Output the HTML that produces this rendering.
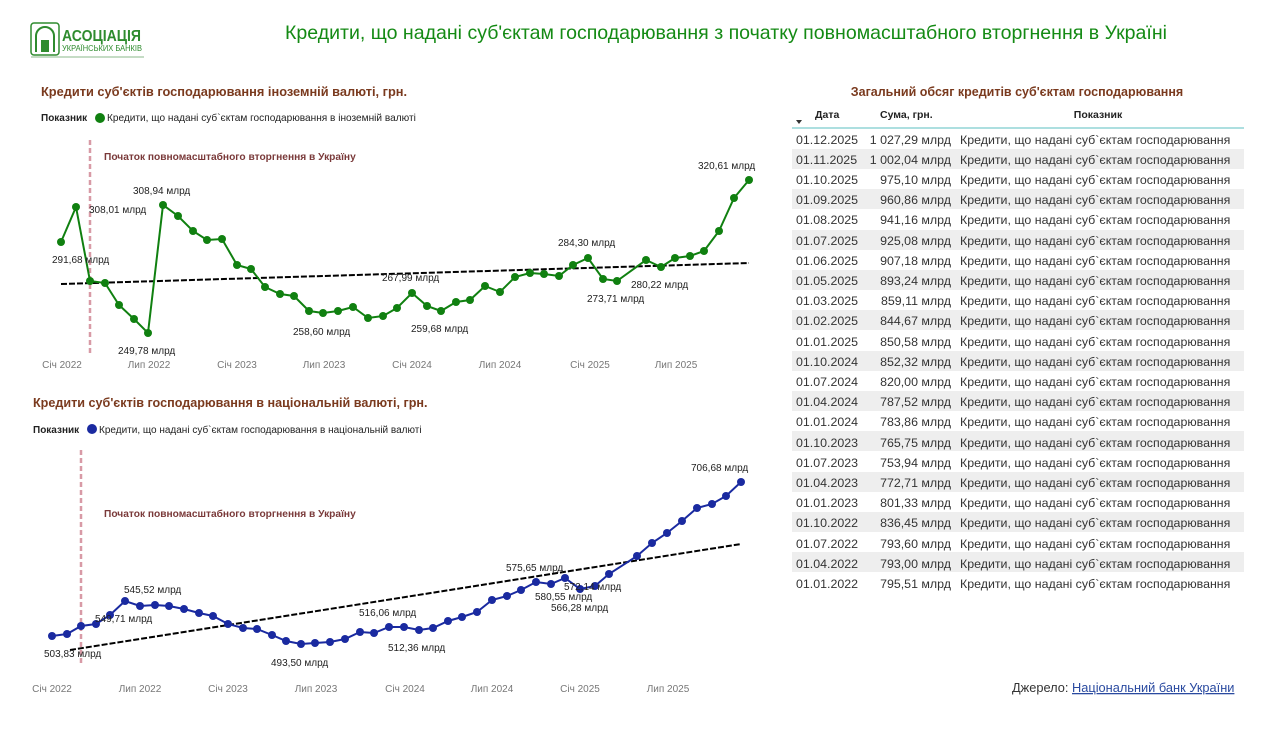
<!DOCTYPE html>
<html><head><meta charset="utf-8"><style>
body{margin:0;background:#fff;width:1269px;height:724px;overflow:hidden;font-family:"Liberation Sans","Noto Sans CJK SC",sans-serif}
</style></head><body>
<svg width="1269" height="724" xmlns="http://www.w3.org/2000/svg" font-family="Liberation Sans, DejaVu Sans, sans-serif">
<!-- logo -->
<g>
<rect x="31" y="23" width="28" height="32" rx="3" fill="none" stroke="#2e8b2e" stroke-width="1.5"/>
<path d="M36 52 V36 a9 9 0 0 1 18 0 V52" fill="none" stroke="#2e8b2e" stroke-width="2"/>
<rect x="41" y="40" width="8" height="12" fill="#2e8b2e"/>
<text x="62" y="41" font-size="16" fill="#2e8b2e" font-weight="bold" textLength="79" lengthAdjust="spacingAndGlyphs">АСОЦІАЦІЯ</text>
<text x="62" y="51" font-size="8" fill="#2e8b2e" textLength="80" lengthAdjust="spacingAndGlyphs">УКРАЇНСЬКИХ БАНКІВ</text>
<line x1="31" y1="57" x2="144" y2="57" stroke="#8bb88b" stroke-width="1"/>
</g>
<text x="726" y="39" font-size="19.5" fill="#148a14" text-anchor="middle" textLength="882" lengthAdjust="spacingAndGlyphs">Кредити, що надані суб'єктам господарювання з початку повномасштабного вторгнення в Україні</text>

<!-- top chart -->
<text x="41" y="96" font-size="12.8" font-weight="bold" fill="#7a3a1e">Кредити суб'єктів господарювання  іноземній валюті, грн.</text>
<text x="41" y="121" font-size="10" font-weight="bold" fill="#222">Показник</text>
<circle cx="100" cy="118" r="5" fill="#108010"/>
<text x="107" y="121" font-size="10.1" fill="#222">Кредити, що надані суб`єктам господарювання в іноземній валюті</text>
<line x1="90" y1="140" x2="90" y2="353" stroke="#d89aa6" stroke-width="2.5" stroke-dasharray="5,3"/>
<text x="104" y="160" font-size="10.2" font-weight="bold" fill="#7a3a3a">Початок повномасштабного вторгнення в Україну</text>
<line x1="61" y1="284" x2="749" y2="263" stroke="#000" stroke-width="2" stroke-dasharray="6,2"/>
<polyline fill="none" stroke="#108010" stroke-width="2" points="61,242 76,207 90,281 105,283 119,305 134,319 148,333 163,205 178,216 193,231 207,240 222,239 237,265 251,269 265,287 280,294 294,296 309,311 323,313 338,311 353,307 368,318 383,316 397,308 412,293 427,306 441,311 456,302 470,300 485,286 500,292 515,277 530,273 544,274 559,276 573,265 588,258 603,279 617,281 646,260 661,267 675,258 690,256 704,251 719,231 734,198 749,180"/>
<g fill="#108010">
<circle cx="61" cy="242" r="4"/><circle cx="76" cy="207" r="4"/><circle cx="90" cy="281" r="4"/><circle cx="105" cy="283" r="4"/><circle cx="119" cy="305" r="4"/><circle cx="134" cy="319" r="4"/><circle cx="148" cy="333" r="4"/><circle cx="163" cy="205" r="4"/><circle cx="178" cy="216" r="4"/><circle cx="193" cy="231" r="4"/><circle cx="207" cy="240" r="4"/><circle cx="222" cy="239" r="4"/><circle cx="237" cy="265" r="4"/><circle cx="251" cy="269" r="4"/><circle cx="265" cy="287" r="4"/><circle cx="280" cy="294" r="4"/><circle cx="294" cy="296" r="4"/><circle cx="309" cy="311" r="4"/><circle cx="323" cy="313" r="4"/><circle cx="338" cy="311" r="4"/><circle cx="353" cy="307" r="4"/><circle cx="368" cy="318" r="4"/><circle cx="383" cy="316" r="4"/><circle cx="397" cy="308" r="4"/><circle cx="412" cy="293" r="4"/><circle cx="427" cy="306" r="4"/><circle cx="441" cy="311" r="4"/><circle cx="456" cy="302" r="4"/><circle cx="470" cy="300" r="4"/><circle cx="485" cy="286" r="4"/><circle cx="500" cy="292" r="4"/><circle cx="515" cy="277" r="4"/><circle cx="530" cy="273" r="4"/><circle cx="544" cy="274" r="4"/><circle cx="559" cy="276" r="4"/><circle cx="573" cy="265" r="4"/><circle cx="588" cy="258" r="4"/><circle cx="603" cy="279" r="4"/><circle cx="617" cy="281" r="4"/><circle cx="646" cy="260" r="4"/><circle cx="661" cy="267" r="4"/><circle cx="675" cy="258" r="4"/><circle cx="690" cy="256" r="4"/><circle cx="704" cy="251" r="4"/><circle cx="719" cy="231" r="4"/><circle cx="734" cy="198" r="4"/><circle cx="749" cy="180" r="4"/>
</g>
<g font-size="10" fill="#222">
<text x="52" y="263">291,68 млрд</text>
<text x="89" y="213">308,01 млрд</text>
<text x="133" y="194">308,94 млрд</text>
<text x="118" y="354">249,78 млрд</text>
<text x="293" y="335">258,60 млрд</text>
<text x="382" y="281">267,99 млрд</text>
<text x="411" y="332">259,68 млрд</text>
<text x="558" y="246">284,30 млрд</text>
<text x="587" y="302">273,71 млрд</text>
<text x="631" y="288">280,22 млрд</text>
<text x="698" y="169">320,61 млрд</text>
</g>
<g font-size="10" fill="#777" text-anchor="middle">
<text x="62" y="368">Січ 2022</text><text x="149" y="368">Лип 2022</text><text x="237" y="368">Січ 2023</text><text x="324" y="368">Лип 2023</text><text x="412" y="368">Січ 2024</text><text x="500" y="368">Лип 2024</text><text x="590" y="368">Січ 2025</text><text x="676" y="368">Лип 2025</text>
</g>

<!-- bottom chart -->
<text x="33" y="407" font-size="12.6" font-weight="bold" fill="#7a3a1e">Кредити суб'єктів господарювання в національній валюті, грн.</text>
<text x="33" y="433" font-size="10" font-weight="bold" fill="#222">Показник</text>
<circle cx="92" cy="429" r="5" fill="#1a2aa0"/>
<text x="99" y="433" font-size="10" fill="#222">Кредити, що надані суб`єктам господарювання в національній валюті</text>
<line x1="81" y1="450" x2="81" y2="666" stroke="#d89aa6" stroke-width="2.5" stroke-dasharray="5,3"/>
<text x="104" y="517" font-size="10.2" font-weight="bold" fill="#7a3a3a">Початок повномасштабного вторгнення в Україну</text>
<line x1="70" y1="650" x2="741" y2="544" stroke="#000" stroke-width="2" stroke-dasharray="6,2"/>
<polyline fill="none" stroke="#1a2aa0" stroke-width="2" points="52,636 67,634 81,626 96,624 110,615 125,601 140,606 155,605 169,606 184,609 199,613 213,616 228,624 243,628 257,629 272,635 286,641 301,644 315,643 330,642 345,639 360,632 374,633 389,627 404,627 419,630 433,628 448,621 462,617 477,612 492,600 507,596 521,590 536,582 551,584 565,578 580,589 595,586 609,574 637,556 652,543 667,533 682,521 697,508 712,504 726,496 741,482"/>
<g fill="#1a2aa0">
<circle cx="52" cy="636" r="4"/><circle cx="67" cy="634" r="4"/><circle cx="81" cy="626" r="4"/><circle cx="96" cy="624" r="4"/><circle cx="110" cy="615" r="4"/><circle cx="125" cy="601" r="4"/><circle cx="140" cy="606" r="4"/><circle cx="155" cy="605" r="4"/><circle cx="169" cy="606" r="4"/><circle cx="184" cy="609" r="4"/><circle cx="199" cy="613" r="4"/><circle cx="213" cy="616" r="4"/><circle cx="228" cy="624" r="4"/><circle cx="243" cy="628" r="4"/><circle cx="257" cy="629" r="4"/><circle cx="272" cy="635" r="4"/><circle cx="286" cy="641" r="4"/><circle cx="301" cy="644" r="4"/><circle cx="315" cy="643" r="4"/><circle cx="330" cy="642" r="4"/><circle cx="345" cy="639" r="4"/><circle cx="360" cy="632" r="4"/><circle cx="374" cy="633" r="4"/><circle cx="389" cy="627" r="4"/><circle cx="404" cy="627" r="4"/><circle cx="419" cy="630" r="4"/><circle cx="433" cy="628" r="4"/><circle cx="448" cy="621" r="4"/><circle cx="462" cy="617" r="4"/><circle cx="477" cy="612" r="4"/><circle cx="492" cy="600" r="4"/><circle cx="507" cy="596" r="4"/><circle cx="521" cy="590" r="4"/><circle cx="536" cy="582" r="4"/><circle cx="551" cy="584" r="4"/><circle cx="565" cy="578" r="4"/><circle cx="580" cy="589" r="4"/><circle cx="595" cy="586" r="4"/><circle cx="609" cy="574" r="4"/><circle cx="637" cy="556" r="4"/><circle cx="652" cy="543" r="4"/><circle cx="667" cy="533" r="4"/><circle cx="682" cy="521" r="4"/><circle cx="697" cy="508" r="4"/><circle cx="712" cy="504" r="4"/><circle cx="726" cy="496" r="4"/><circle cx="741" cy="482" r="4"/>
</g>
<g font-size="10" fill="#222">
<text x="124" y="593">545,52 млрд</text>
<text x="95" y="622">549,71 млрд</text>
<text x="44" y="657">503,83 млрд</text>
<text x="271" y="666">493,50 млрд</text>
<text x="359" y="616">516,06 млрд</text>
<text x="388" y="651">512,36 млрд</text>
<text x="506" y="571">575,65 млрд</text>
<text x="535" y="600">580,55 млрд</text>
<text x="551" y="611">566,28 млрд</text>
<text x="564" y="590">572,14 млрд</text>
<text x="691" y="471">706,68 млрд</text>
</g>
<g font-size="10" fill="#777" text-anchor="middle">
<text x="52" y="692">Січ 2022</text><text x="140" y="692">Лип 2022</text><text x="228" y="692">Січ 2023</text><text x="316" y="692">Лип 2023</text><text x="405" y="692">Січ 2024</text><text x="492" y="692">Лип 2024</text><text x="580" y="692">Січ 2025</text><text x="668" y="692">Лип 2025</text>
</g>

<!-- table -->
<text x="1017" y="96" font-size="12.5" font-weight="bold" fill="#7a3a1e" text-anchor="middle">Загальний обсяг кредитів суб'єктам господарювання</text>
<g font-size="10.5" font-weight="bold" fill="#222">
<text x="815" y="118">Дата</text><text x="880" y="118">Сума, грн.</text><text x="1098" y="118" text-anchor="middle">Показник</text>
</g>
<path d="M796 120 l6 0 l-3 4z" fill="#333"/>
<line x1="792" y1="128" x2="1244" y2="128" stroke="#5bbfc0" stroke-width="1"/>
<g fill="#eeeeee">
<rect x="792" y="149" width="452" height="20"/><rect x="792" y="189" width="452" height="20"/><rect x="792" y="230" width="452" height="20"/><rect x="792" y="270" width="452" height="20"/><rect x="792" y="310" width="452" height="20"/><rect x="792" y="351" width="452" height="20"/><rect x="792" y="391" width="452" height="20"/><rect x="792" y="431" width="452" height="20"/><rect x="792" y="472" width="452" height="20"/><rect x="792" y="512" width="452" height="20"/><rect x="792" y="552" width="452" height="20"/>
</g>
<g font-size="12.4" fill="#333">
<g>
<text x="796" y="144">01.12.2025</text><text x="796" y="164">01.11.2025</text><text x="796" y="184">01.10.2025</text><text x="796" y="204">01.09.2025</text><text x="796" y="224">01.08.2025</text><text x="796" y="245">01.07.2025</text><text x="796" y="265">01.06.2025</text><text x="796" y="285">01.05.2025</text><text x="796" y="305">01.03.2025</text><text x="796" y="325">01.02.2025</text><text x="796" y="346">01.01.2025</text><text x="796" y="366">01.10.2024</text><text x="796" y="386">01.07.2024</text><text x="796" y="406">01.04.2024</text><text x="796" y="426">01.01.2024</text><text x="796" y="447">01.10.2023</text><text x="796" y="467">01.07.2023</text><text x="796" y="487">01.04.2023</text><text x="796" y="507">01.01.2023</text><text x="796" y="527">01.10.2022</text><text x="796" y="548">01.07.2022</text><text x="796" y="568">01.04.2022</text><text x="796" y="588">01.01.2022</text>
</g>
<g text-anchor="end">
<text x="951" y="144">1 027,29 млрд</text><text x="951" y="164">1 002,04 млрд</text><text x="951" y="184">975,10 млрд</text><text x="951" y="204">960,86 млрд</text><text x="951" y="224">941,16 млрд</text><text x="951" y="245">925,08 млрд</text><text x="951" y="265">907,18 млрд</text><text x="951" y="285">893,24 млрд</text><text x="951" y="305">859,11 млрд</text><text x="951" y="325">844,67 млрд</text><text x="951" y="346">850,58 млрд</text><text x="951" y="366">852,32 млрд</text><text x="951" y="386">820,00 млрд</text><text x="951" y="406">787,52 млрд</text><text x="951" y="426">783,86 млрд</text><text x="951" y="447">765,75 млрд</text><text x="951" y="467">753,94 млрд</text><text x="951" y="487">772,71 млрд</text><text x="951" y="507">801,33 млрд</text><text x="951" y="527">836,45 млрд</text><text x="951" y="548">793,60 млрд</text><text x="951" y="568">793,00 млрд</text><text x="951" y="588">795,51 млрд</text>
</g>
<g>
<text x="960" y="144">Кредити, що надані суб`єктам господарювання</text><text x="960" y="164">Кредити, що надані суб`єктам господарювання</text><text x="960" y="184">Кредити, що надані суб`єктам господарювання</text><text x="960" y="204">Кредити, що надані суб`єктам господарювання</text><text x="960" y="224">Кредити, що надані суб`єктам господарювання</text><text x="960" y="245">Кредити, що надані суб`єктам господарювання</text><text x="960" y="265">Кредити, що надані суб`єктам господарювання</text><text x="960" y="285">Кредити, що надані суб`єктам господарювання</text><text x="960" y="305">Кредити, що надані суб`єктам господарювання</text><text x="960" y="325">Кредити, що надані суб`єктам господарювання</text><text x="960" y="346">Кредити, що надані суб`єктам господарювання</text><text x="960" y="366">Кредити, що надані суб`єктам господарювання</text><text x="960" y="386">Кредити, що надані суб`єктам господарювання</text><text x="960" y="406">Кредити, що надані суб`єктам господарювання</text><text x="960" y="426">Кредити, що надані суб`єктам господарювання</text><text x="960" y="447">Кредити, що надані суб`єктам господарювання</text><text x="960" y="467">Кредити, що надані суб`єктам господарювання</text><text x="960" y="487">Кредити, що надані суб`єктам господарювання</text><text x="960" y="507">Кредити, що надані суб`єктам господарювання</text><text x="960" y="527">Кредити, що надані суб`єктам господарювання</text><text x="960" y="548">Кредити, що надані суб`єктам господарювання</text><text x="960" y="568">Кредити, що надані суб`єктам господарювання</text><text x="960" y="588">Кредити, що надані суб`єктам господарювання</text>
</g>
</g>
<text x="1012" y="692" font-size="12.8" fill="#333">Джерело: <tspan fill="#2a4aa0" text-decoration="underline">Національний банк України</tspan></text>
</svg>
</body></html>
